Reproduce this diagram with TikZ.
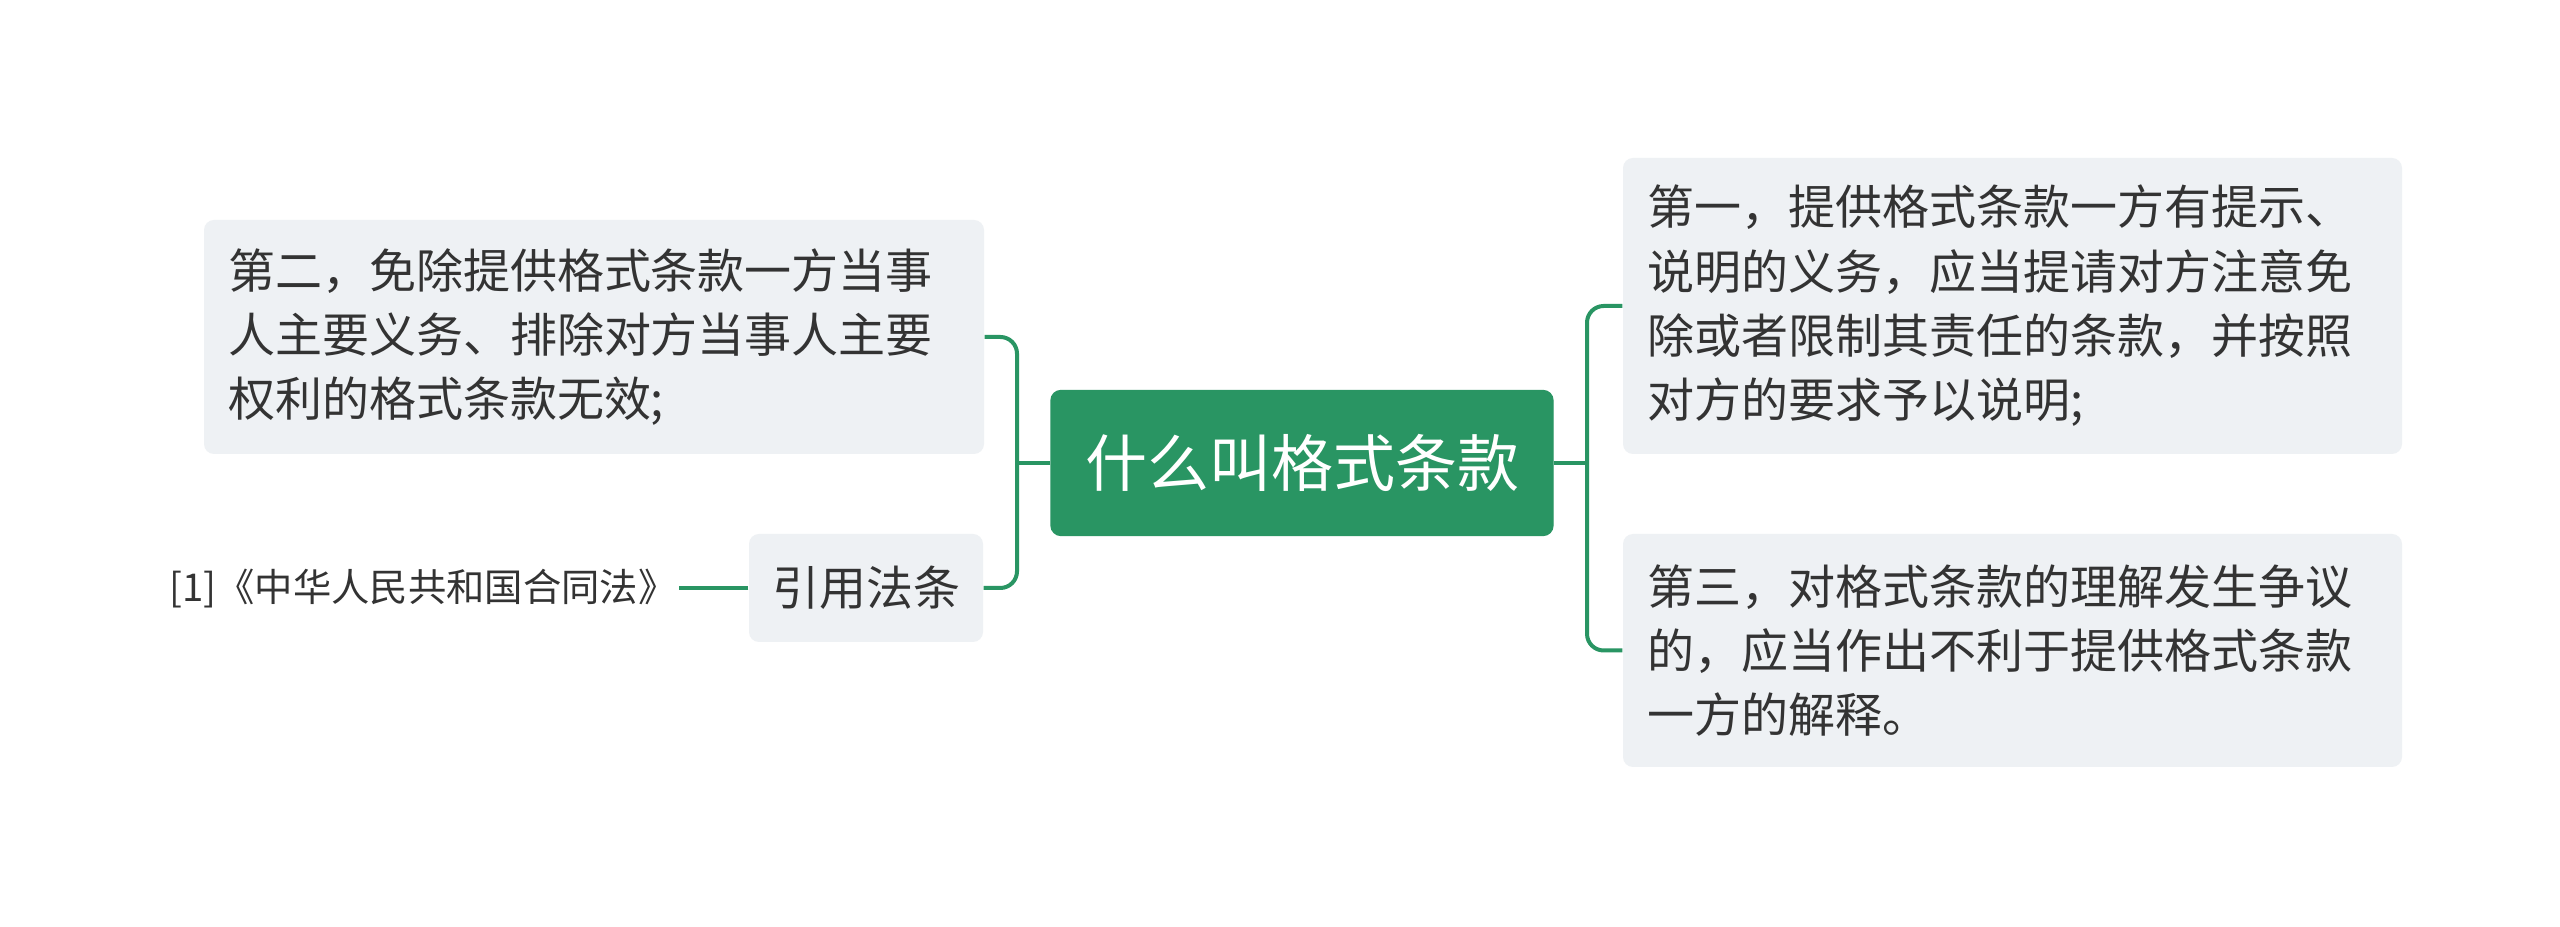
\documentclass[tikz,border=0pt]{standalone}
\usepackage{fontspec}
\setmainfont{Noto Sans CJK SC}
\definecolor{mgreen}{HTML}{299563}
\definecolor{boxgray}{HTML}{EEF1F4}
\definecolor{txtdark}{HTML}{333333}
\begin{document}
\begin{tikzpicture}[x=0.3pt,y=-0.3pt,
  topic/.style={fill=mgreen,draw=mgreen,rounded corners=3pt,text=white,
    font=\fontsize{18.6pt}{22pt}\selectfont,inner sep=0pt,
    minimum width=150.6pt,minimum height=43.5pt},
  subbox/.style={fill=boxgray,rounded corners=3pt,text=txtdark,align=left,
    font=\fontsize{14.1pt}{19.3pt}\selectfont,inner xsep=7.2pt,inner ysep=0pt},
  conn/.style={draw=mgreen,line width=1.2pt,rounded corners=5pt}]
\useasboundingbox[fill=white] (0,0) rectangle (2560,927);
\node[topic] (c) at (1302,463) {什么叫格式条款};
\node[subbox,minimum width=234pt,minimum height=70.2pt,text width=219.6pt] (b2) at (594,337)
  {第二，免除提供格式条款一方当事\\人主要义务、排除对方当事人主要\\权利的格式条款无效;};
\node[subbox,minimum width=70.2pt,minimum height=32.4pt,inner xsep=0pt] (ref) at (866,588) {引用法条};
\node[text=txtdark,font=\fontsize{11.5pt}{13.5pt}\selectfont,inner sep=0pt] (law) at (423,589) {[1]《中华人民共和国合同法》};
\node[subbox,minimum width=233.7pt,minimum height=88.8pt,text width=219.3pt] (b1) at (2012.5,306)
  {第一，提供格式条款一方有提示、\\说明的义务，应当提请对方注意免\\除或者限制其责任的条款，并按照\\对方的要求予以说明;};
\node[subbox,minimum width=233.7pt,minimum height=69.9pt,text width=219.3pt] (b3) at (2012.5,650.5)
  {第三，对格式条款的理解发生争议\\的，应当作出不利于提供格式条款\\一方的解释。};
\coordinate (jl) at (1017,463);
\coordinate (jr) at (1587,463);
\coordinate (lawend) at (679,588);
\draw[conn] (c.west) -- (jl);
\draw[conn] (b2.east) -- (jl |- b2.east) -- (jl |- ref.east) -- (ref.east);
\draw[conn] (c.east) -- (jr);
\draw[conn] (b1.west) -- (jr |- b1.west) -- (jr |- b3.west) -- (b3.west);
\draw[conn] (ref.west) -- (lawend);
\end{tikzpicture}
\end{document}
